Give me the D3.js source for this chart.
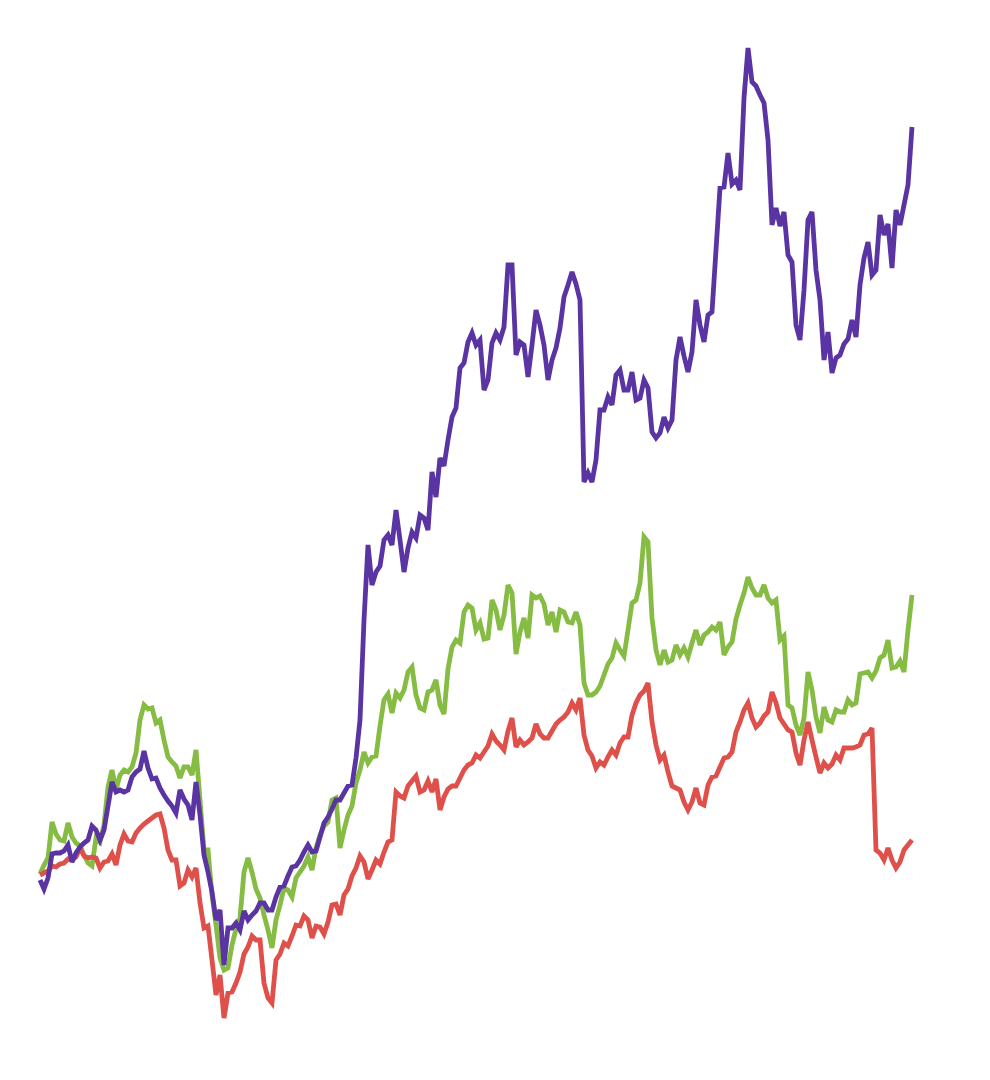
<!DOCTYPE html>
<html>
<head>
<meta charset="utf-8">
<script src="https://cdn.jsdelivr.net/npm/d3@7"></script>
<style>
  html, body { margin: 0; padding: 0; background: #ffffff; }
  svg { display: block; }
</style>
</head>
<body>
<div id="chart"></div>
<script>
// Cumulative return (%) per period, three series
const seriesNames = ["Green", "Red", "Purple"];

const purpleValues = [
  -0.5, -1.4, -0.3, 2.1, 2.2, 2.2, 2.4, 3.0, 1.3, 2.2,
  2.8, 3.2, 3.5, 4.9, 4.5, 3.5, 4.5, 6.9, 9.3, 8.3,
  8.5, 8.3, 8.5, 9.8, 10.3, 10.6, 12.4, 10.7, 9.6, 9.7,
  8.7, 8.0, 7.4, 6.9, 6.2, 8.5, 7.6, 7.0, 5.5, 9.3,
  6.0, 2.0, 0.3, -1.7, -4.5, -3.5, -9.0, -5.3, -5.3, -4.8,
  -5.5, -3.6, -4.5, -4.0, -3.6, -2.8, -2.8, -3.5, -3.5, -2.2,
  -1.2, -1.1, -0.1, 0.8, 0.9, 1.5, 2.3, 3.0, 2.3, 2.4,
  3.8, 5.2, 5.8, 6.6, 7.5, 7.5, 8.2, 8.9, 9.0, 11.7,
  15.5, 25.5, 33.0, 29.0, 30.3, 30.9, 33.5, 34.0, 33.0, 36.5,
  33.5, 30.3, 32.7, 34.3, 33.7, 36.0, 35.7, 34.5, 40.3, 37.8,
  41.7, 40.9, 43.5, 45.8, 46.7, 50.7, 51.2, 53.3, 54.2, 53.0,
  53.5, 48.5, 49.5, 53.2, 54.2, 53.5, 54.8, 61.0, 61.0, 52.0,
  53.3, 53.0, 49.8, 53.0, 56.5, 55.0, 53.0, 49.5, 51.5, 52.7,
  54.7, 57.8, 59.0, 60.3, 59.1, 57.5, 39.3, 40.2, 39.3, 41.5,
  46.5, 46.5, 47.8, 47.0, 50.0, 50.5, 48.5, 48.5, 50.3, 47.5,
  47.7, 49.5, 48.7, 44.3, 43.7, 44.2, 45.8, 44.7, 45.5, 51.5,
  53.8, 51.9, 50.3, 52.3, 57.5, 55.0, 53.3, 56.0, 56.3, 62.5,
  68.7, 68.8, 72.2, 69.1, 69.5, 68.5, 77.7, 82.7, 79.3, 78.9,
  78.0, 77.2, 73.5, 65.0, 66.7, 64.9, 66.3, 62.0, 61.3, 55.0,
  53.5, 58.5, 65.5, 66.3, 60.5, 57.5, 51.5, 54.3, 50.2, 51.7,
  52.0, 53.1, 53.6, 55.5, 53.8, 59.0, 61.7, 63.3, 60.0, 60.5,
  66.0, 64.0, 65.1, 60.7, 66.5, 65.0, 67.0, 69.0, 74.8
];

const greenValues = [
  0.1, 1.0, 1.7, 5.3, 4.1, 3.5, 3.4, 5.2, 3.8, 3.2,
  2.9, 2.0, 1.2, 0.9, 3.7, 3.3, 5.0, 8.8, 10.5, 8.5,
  10.0, 10.5, 10.3, 10.8, 12.2, 15.5, 17.0, 16.6, 16.7, 15.2,
  15.5, 13.5, 11.8, 11.3, 10.9, 9.7, 10.8, 10.8, 10.0, 12.5,
  7.5, 2.5, 2.5, -2.0, -5.0, -8.3, -9.5, -9.3, -7.0, -5.4,
  -4.3, 0.3, 1.7, 0.3, -1.4, -2.3, -4.0, -5.5, -7.3, -4.5,
  -3.0, -1.3, -1.5, -2.2, -0.3, 0.3, 0.9, 1.8, 0.5, 2.7,
  4.0, 4.9, 5.3, 7.5, 7.7, 2.7, 4.5, 6.0, 6.9, 9.2,
  10.5, 12.3, 11.2, 11.8, 11.9, 14.9, 17.5, 18.1, 16.2, 18.2,
  17.7, 18.5, 20.3, 20.8, 18.0, 16.7, 16.5, 18.3, 18.5, 19.5,
  17.0, 16.1, 20.6, 22.8, 23.5, 23.2, 26.3, 27.0, 26.7, 24.5,
  25.2, 23.6, 23.7, 27.5, 26.5, 24.5, 26.0, 29.0, 28.2, 22.1,
  24.3, 25.7, 23.7, 28.0, 27.7, 27.9, 27.1, 25.0, 26.3, 24.3,
  26.5, 26.3, 25.3, 25.2, 26.3, 25.0, 19.2, 18.0, 18.0, 18.3,
  18.9, 20.0, 21.1, 21.7, 23.2, 22.5, 21.9, 24.5, 27.2, 27.5,
  29.2, 33.8, 33.3, 25.7, 22.5, 21.0, 22.5, 21.3, 21.5, 23.0,
  22.0, 22.7, 21.8, 23.2, 24.5, 23.0, 24.0, 24.3, 24.8, 24.5,
  25.3, 22.0, 22.8, 23.3, 25.6, 27.0, 28.2, 29.8, 28.7, 28.0,
  28.0, 29.0, 27.7, 27.2, 27.5, 23.5, 23.9, 17.0, 16.7, 15.0,
  14.0, 15.7, 20.3, 18.5, 15.8, 14.2, 16.8, 15.5, 15.3, 16.5,
  16.3, 16.3, 17.5, 17.0, 17.2, 20.1, 20.2, 20.3, 19.7, 20.4,
  21.7, 22.0, 23.5, 20.7, 20.8, 21.4, 20.3, 24.5, 28.0
];

const redValues = [
  0.0, 0.2, 0.4, 0.9, 0.8, 1.1, 1.2, 1.6, 1.5, 1.8,
  2.7, 1.9, 1.7, 1.8, 1.7, 0.7, 1.3, 1.4, 2.1, 1.0,
  3.0, 4.1, 3.4, 3.3, 4.2, 4.7, 5.1, 5.4, 5.7, 6.0,
  6.1, 4.7, 2.5, 1.5, 1.5, -1.1, -0.8, 0.5, -0.2, 0.7,
  -2.8, -5.3, -5.1, -8.5, -12.0, -10.0, -14.3, -11.8, -11.7, -10.8,
  -9.7, -7.9, -7.2, -6.1, -6.5, -6.5, -10.8, -12.3, -12.8, -8.5,
  -7.9, -6.8, -7.1, -6.1, -5.0, -5.1, -4.1, -4.5, -6.3, -5.1,
  -5.2, -5.9, -4.7, -3.0, -2.9, -4.0, -2.0, -1.4, -0.1, 0.7,
  1.9, 1.3, -0.4, 0.5, 1.5, 1.1, 2.3, 3.3, 3.5, 8.3,
  7.9, 7.7, 8.9, 9.4, 9.9, 8.3, 8.5, 9.4, 8.3, 9.6,
  6.5, 7.8, 8.6, 8.9, 8.9, 9.7, 10.5, 11.0, 11.2, 12.0,
  11.7, 12.3, 12.9, 14.1, 13.4, 13.0, 12.5, 14.4, 15.7, 12.8,
  13.5, 13.0, 13.3, 13.7, 15.1, 14.1, 13.7, 13.7, 14.4, 15.1,
  15.5, 15.8, 16.3, 17.2, 16.5, 17.7, 14.0, 12.5, 11.9, 10.7,
  11.3, 11.0, 11.8, 12.5, 12.0, 13.2, 13.8, 13.8, 16.0, 17.2,
  18.0, 18.4, 19.2, 15.3, 13.0, 11.5, 12.0, 10.3, 8.9, 8.7,
  8.5, 7.3, 6.5, 7.3, 8.7, 7.2, 7.0, 9.0, 9.8, 9.9,
  10.8, 11.7, 11.8, 12.3, 14.3, 15.3, 16.5, 17.2, 15.7, 14.8,
  15.2, 15.9, 16.3, 18.3, 17.2, 15.7, 15.1, 14.5, 14.3, 12.2,
  11.0, 13.5, 15.3, 13.5, 11.8, 10.2, 11.2, 10.7, 11.1, 12.0,
  11.5, 12.7, 12.7, 12.7, 12.8, 13.0, 14.0, 14.1, 14.7, 2.5,
  2.2, 1.5, 2.7, 1.5, 0.7, 1.3, 2.5, 3.0, 3.5
];

const seriesColors = ["#86bc43", "#df504a", "#5a34a2"];

const W = 990, H = 1080;
const N = Math.max(purpleValues.length, greenValues.length, redValues.length);

const svg = d3.select("#chart").append("svg")
  .attr("width", W).attr("height", H)
  .attr("viewBox", `0 0 ${W} ${H}`);

svg.append("rect").attr("width", W).attr("height", H).attr("fill", "#ffffff");

const x = d3.scaleLinear().domain([0, N - 1]).range([40, 912]);
const y = d3.scaleLinear().domain([-15, 85]).range([1025, 25]);

const line = d3.line()
  .x((d, i) => x(i))
  .y(d => y(d));

const series = [greenValues, redValues, purpleValues];

svg.append("g")
  .selectAll("path")
  .data(series)
  .join("path")
  .attr("d", d => line(d))
  .attr("fill", "none")
  .attr("stroke", (d, i) => seriesColors[i])
  .attr("stroke-width", 4.8)
  .attr("stroke-linejoin", "miter")
  .attr("stroke-miterlimit", 3)
  .attr("stroke-linecap", "butt")
  .attr("aria-label", (d, i) => seriesNames[i]);
</script>
</body>
</html>
